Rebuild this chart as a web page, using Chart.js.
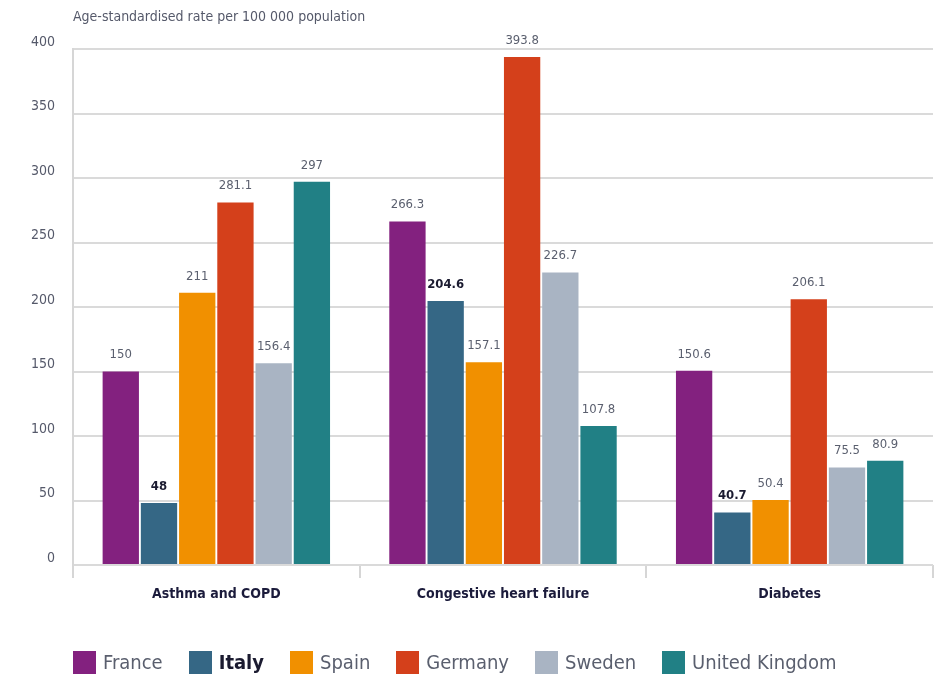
<!DOCTYPE html>
<html>
<head>
<meta charset="utf-8">
<script src="https://cdn.jsdelivr.net/npm/chart.js@4/dist/chart.umd.min.js"></script>
<style>
  html, body { margin: 0; padding: 0; background: #fff; }
  #wrap { position: relative; width: 939px; height: 675px; }
  #unidad {
    position: absolute; left: 73px; top: 8px;
    font: 14px 'Liberation Sans Narrow', 'DejaVu Sans Condensed', sans-serif;
    color: #55596a;
  }
  #leyenda {
    position: absolute; left: 73px; top: 650px;
    display: flex; align-items: center;
    font: 20px 'Liberation Sans Narrow', 'DejaVu Sans Condensed', sans-serif;
    color: #5a5f6e;
  }
  #leyenda .item { display: flex; align-items: center; margin-right: 26px; }
  #leyenda .caja { width: 23px; height: 23px; margin-right: 7px; }
  #leyenda .negrita { font-weight: bold; color: #1b1b30; }
</style>
</head>
<body>
<div id="wrap">
  <canvas id="grafico" width="939" height="675"></canvas>
  <div id="unidad">Age-standardised rate per 100 000 population</div>
  <div id="leyenda"></div>
</div>
<script>
const categorias = ['Asthma and COPD', 'Congestive heart failure', 'Diabetes'];
const paises = ['France', 'Italy', 'Spain', 'Germany', 'Sweden', 'United Kingdom'];
const francia = [150, 266.3, 150.6];
const italia = [48, 204.6, 40.7];
const espana = [211, 157.1, 50.4];
const alemania = [281.1, 393.8, 206.1];
const suecia = [156.4, 226.7, 75.5];
const reinoUnido = [297, 107.8, 80.9];
const colores = ['#83217f', '#356785', '#f19000', '#d4401b', '#a9b4c3', '#218085'];
const valores = [francia, italia, espana, alemania, suecia, reinoUnido];

const fuente = "'Liberation Sans Narrow', 'DejaVu Sans Condensed', sans-serif";
const destacado = 'Italy';

// etiquetas de valor encima de cada barra
const etiquetasBarras = {
    id: 'etiquetasBarras',
    afterDatasetsDraw(chart) {
        const ctx = chart.ctx;
        ctx.save();
        ctx.textAlign = 'center';
        ctx.textBaseline = 'bottom';
        chart.data.datasets.forEach((ds, i) => {
            const meta = chart.getDatasetMeta(i);
            const fuerte = ds.label === destacado;
            ctx.font = (fuerte ? 'bold ' : '') + '13px ' + fuente;
            ctx.fillStyle = fuerte ? '#1b1b30' : '#5a5f6e';
            meta.data.forEach((bar, j) => {
                ctx.fillText(String(ds.data[j]), bar.x, bar.y - 10);
            });
        });
        ctx.restore();
    }
};

const datasets = paises.map((p, i) => ({
    label: p,
    data: valores[i],
    backgroundColor: colores[i],
    borderWidth: 0,
    categoryPercentage: 0.8,
    barPercentage: 0.95
}));

new Chart(document.getElementById('grafico').getContext('2d'), {
    type: 'bar',
    data: { labels: categorias, datasets: datasets },
    options: {
        responsive: false,
        animation: false,
        layout: { padding: { top: 49, right: 6, left: 0, bottom: 0 } },
        plugins: { legend: { display: false }, tooltip: { enabled: false } },
        scales: {
            x: {
                afterFit: s => { s.height = 110; },
                grid: { offset: true, drawOnChartArea: false, tickLength: 13, color: '#d6d6d6', lineWidth: 2 },
                border: { display: false },
                ticks: { padding: 8, color: '#1b1b3b', font: { family: fuente, size: 14, weight: 'bold' } }
            },
            y: {
                min: 0, max: 400,
                afterFit: s => { s.width = 73; },
                grid: { color: '#dadada', lineWidth: 2, drawTicks: false },
                border: { display: true, color: '#d6d6d6', width: 2 },
                ticks: { stepSize: 50, padding: 18, labelOffset: -7, color: '#55596a', font: { family: fuente, size: 14 } }
            }
        }
    },
    plugins: [etiquetasBarras]
});

const leyenda = document.getElementById('leyenda');
paises.forEach((p, i) => {
    const item = document.createElement('div');
    item.className = 'item';
    const caja = document.createElement('span');
    caja.className = 'caja';
    caja.style.background = colores[i];
    const texto = document.createElement('span');
    texto.textContent = p;
    if (p === destacado) texto.className = 'negrita';
    item.appendChild(caja);
    item.appendChild(texto);
    leyenda.appendChild(item);
});
</script>
</body>
</html>
